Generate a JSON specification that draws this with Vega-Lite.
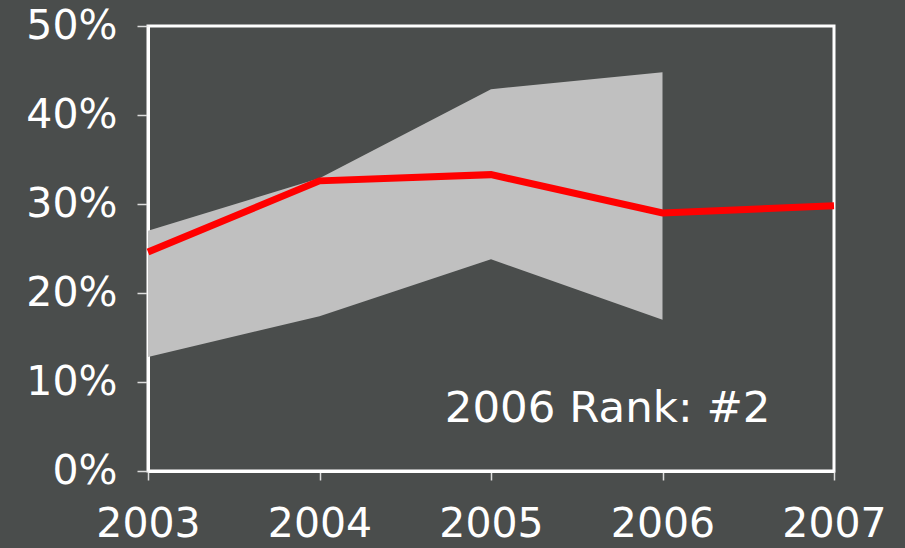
{
  "$schema": "https://vega.github.io/schema/vega-lite/v6.json",
  "width": 686,
  "height": 445,
  "autosize": "none",
  "padding": {"left": 148, "top": 26, "right": 71, "bottom": 77},
  "background": "#4a4d4c",
  "config": {
    "view": {"stroke": "#ffffff", "strokeWidth": 3, "fill": "#4a4d4c"},
    "font": "DejaVu Sans"
  },
  "datasets": {
    "band": [
      {"year": 2003, "low": 0.128, "high": 0.270},
      {"year": 2004, "low": 0.174, "high": 0.329},
      {"year": 2005, "low": 0.238, "high": 0.429},
      {"year": 2006, "low": 0.170, "high": 0.448}
    ],
    "line": [
      {"year": 2003, "value": 0.246},
      {"year": 2004, "value": 0.326},
      {"year": 2005, "value": 0.333},
      {"year": 2006, "value": 0.290},
      {"year": 2007, "value": 0.298}
    ],
    "label": [
      {"year": 2005.68, "value": 0.070, "text": "2006 Rank: #2"}
    ]
  },
  "layer": [
    {
      "data": {"name": "band"},
      "mark": {"type": "area", "color": "#c0c0c0", "opacity": 1},
      "encoding": {
        "x": {
          "field": "year", "type": "quantitative",
          "scale": {"domain": [2003, 2007], "nice": false, "zero": false},
          "axis": {
            "title": null, "values": [2003, 2004, 2005, 2006, 2007], "format": "d",
            "grid": false, "domainColor": "#ffffff", "domainWidth": 3,
            "tickColor": "#dddddd", "tickSize": 9, "tickWidth": 1.5,
            "labelColor": "#ffffff", "labelFontSize": 41, "labelPadding": 24,
            "labelFlush": false
          }
        },
        "y": {
          "field": "low", "type": "quantitative",
          "scale": {"domain": [0, 0.5], "nice": false},
          "axis": {
            "title": null, "values": [0, 0.1, 0.2, 0.3, 0.4, 0.5], "format": ".0%",
            "grid": false, "domainColor": "#ffffff", "domainWidth": 3,
            "tickColor": "#dddddd", "tickSize": 11, "tickWidth": 1.5,
            "labelColor": "#ffffff", "labelFontSize": 41, "labelPadding": 20
          }
        },
        "y2": {"field": "high"}
      }
    },
    {
      "data": {"name": "line"},
      "mark": {"type": "line", "color": "#ff0000", "strokeWidth": 7, "strokeJoin": "miter"},
      "encoding": {
        "x": {"field": "year", "type": "quantitative"},
        "y": {"field": "value", "type": "quantitative"}
      }
    },
    {
      "data": {"name": "label"},
      "mark": {"type": "text", "color": "#ffffff", "fontSize": 43.5, "align": "center", "baseline": "middle"},
      "encoding": {
        "x": {"field": "year", "type": "quantitative"},
        "y": {"field": "value", "type": "quantitative"},
        "text": {"field": "text"}
      }
    }
  ]
}
